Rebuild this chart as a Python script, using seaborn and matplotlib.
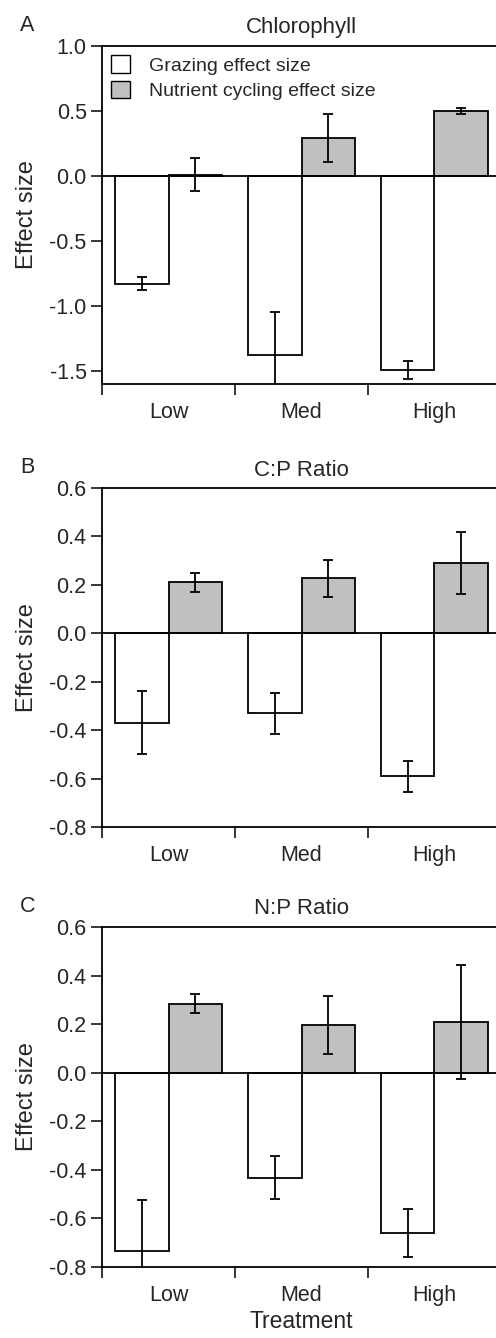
import pandas as pd
import matplotlib.pyplot as plt
import seaborn as sns
from matplotlib.patches import Patch
from matplotlib.ticker import FixedLocator

# treatments and series
treatments = ['Low', 'Med', 'High']
series = ['Grazing effect size', 'Nutrient cycling effect size']

# panel A: chlorophyll
chl_grazing = [-0.83, -1.38, -1.49]
chl_grazing_err = [0.05, 0.33, 0.07]
chl_nutrient = [0.01, 0.29, 0.50]
chl_nutrient_err = [0.125, 0.185, 0.02]

# panel B: C:P ratio
cp_grazing = [-0.37, -0.33, -0.59]
cp_grazing_err = [0.13, 0.085, 0.064]
cp_nutrient = [0.21, 0.227, 0.29]
cp_nutrient_err = [0.04, 0.077, 0.127]

# panel C: N:P ratio
np_grazing = [-0.733, -0.432, -0.66]
np_grazing_err = [0.21, 0.09, 0.097]
np_nutrient = [0.284, 0.196, 0.21]
np_nutrient_err = [0.04, 0.118, 0.234]

sns.set_style('white')
plt.rcParams['font.family'] = ['Liberation Sans', 'DejaVu Sans']

colors = {'Grazing effect size': 'white', 'Nutrient cycling effect size': '#c0c0c0'}


def make_df(graz, graz_err, nutr, nutr_err):
    '''Build long dataframe for one panel'''
    rows = []
    for i, t in enumerate(treatments):
        rows.append({'Treatment': t, 'Series': series[0], 'Effect': graz[i], 'Err': graz_err[i]})
    for i, t in enumerate(treatments):
        rows.append({'Treatment': t, 'Series': series[1], 'Effect': nutr[i], 'Err': nutr_err[i]})
    return pd.DataFrame(rows)


def panel(ax, df, title, letter, ylim, yticks):
    sns.barplot(data=df, x='Treatment', y='Effect', hue='Series', order=treatments,
                hue_order=series, palette=colors, edgecolor='black', linewidth=1.3,
                width=0.8, errorbar=None, legend=False, ax=ax)
    # error bars on each bar from the bar positions seaborn made
    for cont, s in zip(ax.containers, series):
        sub = df[df['Series'] == s].set_index('Treatment').loc[treatments]
        xs = [b.get_x() + b.get_width() / 2 for b in cont]
        ax.errorbar(xs, sub['Effect'], yerr=sub['Err'], fmt='none', ecolor='black',
                    elinewidth=1.3, capsize=3.5, capthick=1.3)
    ax.axhline(0, color='black', lw=1.3)
    ax.set_xlim(-0.5, 2.5)
    ax.set_ylim(*ylim)
    ax.set_yticks(yticks)
    ax.set_yticklabels(['%.1f' % v for v in yticks], fontsize=15.5)
    ax.xaxis.set_minor_locator(FixedLocator([-0.5, 0.5, 1.5, 2.5]))
    ax.tick_params(axis='x', which='major', length=0, labelsize=15.5, pad=13)
    ax.tick_params(axis='x', which='minor', length=8, width=1.3, direction='out', bottom=True)
    ax.tick_params(axis='y', length=8, width=1.3, direction='out', left=True, pad=3)
    for sp in ['top', 'bottom', 'left']:
        ax.spines[sp].set_linewidth(1.3)
        ax.spines[sp].set_color('black')
    ax.spines['right'].set_visible(False)
    ax.set_xlabel('')
    ax.set_ylabel('Effect size', fontsize=17, labelpad=8)
    ax.set_title(title, fontsize=16, pad=9)
    ax.text(-0.187, 1.06, letter, transform=ax.transAxes, fontsize=15.5, ha='center', va='center')


fig = plt.figure(figsize=(4.96, 13.38), dpi=100)
W, H = 496, 1338
left, right = 102, 501
boxes = [(46, 384), (488, 827), (927, 1267)]
axes = [fig.add_axes([left / W, 1 - b / H, (right - left) / W, (b - t) / H]) for t, b in boxes]

panel(axes[0], make_df(chl_grazing, chl_grazing_err, chl_nutrient, chl_nutrient_err),
      'Chlorophyll', 'A', (-1.6, 1.0), [1.0, 0.5, 0.0, -0.5, -1.0, -1.5])
panel(axes[1], make_df(cp_grazing, cp_grazing_err, cp_nutrient, cp_nutrient_err),
      'C:P Ratio', 'B', (-0.8, 0.6), [0.6, 0.4, 0.2, 0.0, -0.2, -0.4, -0.6, -0.8])
panel(axes[2], make_df(np_grazing, np_grazing_err, np_nutrient, np_nutrient_err),
      'N:P Ratio', 'C', (-0.8, 0.6), [0.6, 0.4, 0.2, 0.0, -0.2, -0.4, -0.6, -0.8])
axes[2].set_xlabel('Treatment', fontsize=16.5, labelpad=3)

handles = [Patch(facecolor=colors[s], edgecolor='black', linewidth=1.0, label=s) for s in series]
axes[0].legend(handles=handles, loc='upper left', bbox_to_anchor=(0.003, 0.995), frameon=False,
               fontsize=14, handlelength=1.0, handleheight=1.0, handletextpad=0.95,
               labelspacing=0.3, borderaxespad=0.0)

fig.savefig('out.png', dpi=100)
